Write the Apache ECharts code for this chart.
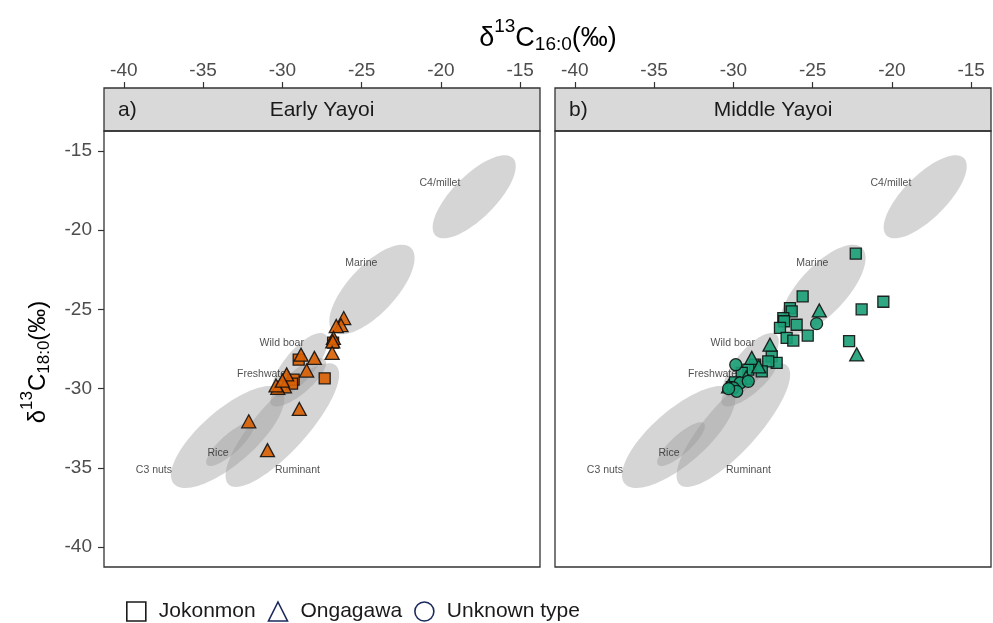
<!DOCTYPE html>
<html><head><meta charset="utf-8">
<script src="https://cdn.jsdelivr.net/npm/echarts@6/dist/echarts.min.js"></script>
<style>html,body{margin:0;padding:0;background:#fff}#c{width:993px;height:623px}</style>
</head><body><div id="c"></div>
<script>
// ---- axes ----
const axisTicks = [-40, -35, -30, -25, -20, -15];
const axisMin = -41.25, axisMax = -13.75;
const panelTitles = ['Early Yayoi', 'Middle Yayoi'];
const panelTags = ['a)', 'b)'];
const typeNames = ['Jokonmon', 'Ongagawa', 'Unknown type'];

// ---- reference ellipses (data units) ----
const ellipseNames   = ['C4/millet', 'Marine', 'Wild boar', 'Freshwater', 'C3 nuts', 'Rice', 'Ruminant'];
const ellipseCX      = [-17.9, -24.35, -28.9, -29.0, -33.45, -33.3, -30.0];
const ellipseCY      = [-17.9, -23.75, -28.5, -29.6, -33.05, -33.5, -32.3];
const ellipseMajor   = [3.45, 3.6, 2.5, 2.2, 4.5, 1.95, 5.05];
const ellipseMinor   = [1.35, 1.5, 0.95, 0.75, 1.7, 0.6, 1.6];
const ellipseAngle   = [45, 47, 50, 40, 41, 42, 48];
const ellipseLabelX  = [-20.06, -25.02, -30.04, -31.2, -38.1, -34.06, -29.05];
const ellipseLabelY  = [-17.05, -22.06, -27.12, -29.1, -35.11, -34.08, -35.11];

// ---- samples: Early Yayoi ----
const earlyJokonmon = [[-28.97,-28.17],[-27.33,-29.35],[-29.29,-29.43],[-29.39,-29.68],[-26.8,-27.1]];
const earlyOngagawa = [[-26.13,-25.55],[-26.3,-26.0],[-26.6,-26.05],[-26.78,-26.8],[-26.82,-27.02],[-26.86,-27.75],
  [-28.82,-27.86],[-27.98,-28.06],[-28.47,-28.86],[-29.73,-29.1],[-29.87,-29.85],[-30.29,-29.95],[-30.4,-29.8],
  [-30.0,-29.5],[-28.93,-31.28],[-32.12,-32.06],[-30.94,-33.88]];
const earlyUnknown = [];

// ---- samples: Middle Yayoi ----
const middleJokonmon = [[-22.28,-21.49],[-25.63,-24.18],[-20.54,-24.52],[-21.91,-25.0],[-26.43,-24.92],[-26.32,-25.13],
  [-26.85,-25.55],[-26.8,-25.75],[-26.01,-25.97],[-27.06,-26.17],[-25.31,-26.66],[-26.64,-26.8],[-26.22,-26.97],
  [-22.7,-27.0],[-27.58,-27.96],[-27.27,-28.38],[-27.8,-28.28],[-28.63,-28.49],[-28.21,-28.91],[-29.06,-28.8],
  [-29.47,-29.01],[-29.9,-29.6],[-30.1,-29.9]];
const middleOngagawa = [[-24.58,-25.07],[-22.22,-27.84],[-27.69,-27.23],[-28.84,-28.06],[-29.2,-29.3],[-30.3,-29.85],[-28.4,-28.6]];
const middleUnknown = [[-24.75,-25.9],[-29.85,-28.49],[-29.58,-29.64],[-30.0,-29.95],[-29.06,-29.54],[-29.79,-30.17],[-30.3,-30.0]];

const panelColors = ['#D95F02', '#1B9E77'];
const FONT = 'Liberation Sans, Arial, sans-serif';

const ellipseData = ellipseNames.map((n, i) => [ellipseCX[i], ellipseCY[i], ellipseMajor[i], ellipseMinor[i], ellipseAngle[i]]);
const ellipseLabelData = ellipseNames.map((n, i) => ({ name: n, value: [ellipseLabelX[i], ellipseLabelY[i]] }));

function renderEllipse(params, api) {
  const cx = api.value(0), cy = api.value(1), a = api.value(2), b = api.value(3);
  const ang = api.value(4) * Math.PI / 180;
  const pts = [];
  for (let k = 0; k < 90; k++) {
    const t = k / 90 * 2 * Math.PI;
    const ex = a * Math.cos(t), ey = b * Math.sin(t);
    pts.push(api.coord([cx + ex * Math.cos(ang) - ey * Math.sin(ang), cy + ex * Math.sin(ang) + ey * Math.cos(ang)]));
  }
  return { type: 'polygon', shape: { points: pts }, style: { fill: 'rgba(150,150,150,0.4)' }, silent: true };
}

const grids = [
  { left: 104, top: 131, width: 436, height: 436 },
  { left: 555, top: 131, width: 436, height: 436 }
];

const series = [];
const panelData = [
  [earlyJokonmon, earlyOngagawa, earlyUnknown],
  [middleJokonmon, middleOngagawa, middleUnknown]
];
const symbols = ['rect', 'triangle', 'circle'];
const sizes = [11, [14, 13], 12];
for (let p = 0; p < 2; p++) {
  series.push({
    type: 'custom', xAxisIndex: p, yAxisIndex: p, renderItem: renderEllipse,
    data: ellipseData, encode: { x: 0, y: 1 }, z: 1, silent: true, clip: true
  });
  series.push({
    type: 'scatter', xAxisIndex: p, yAxisIndex: p, data: ellipseLabelData, symbolSize: 1, z: 2, silent: true,
    itemStyle: { color: 'transparent' },
    label: { show: true, position: 'inside', formatter: '{b}', fontSize: 10.5, color: '#262626', fontFamily: FONT }
  });
  for (let t = 0; t < 3; t++) {
    series.push({
      name: typeNames[t], type: 'scatter', xAxisIndex: p, yAxisIndex: p, data: panelData[p][t],
      symbol: symbols[t], symbolSize: sizes[t], z: 3,
      itemStyle: { color: panelColors[p], opacity: 0.9, borderColor: '#111', borderWidth: 1.3 }
    });
  }
}

const xAxes = grids.map((g, i) => ({
  gridIndex: i, type: 'value', min: axisMin, max: axisMax, position: 'top', offset: 43,
  axisLine: { show: false },
  axisTick: { show: true, length: 6, customValues: axisTicks, lineStyle: { color: '#333', width: 1.2 } },
  axisLabel: { customValues: axisTicks, fontSize: 19, color: '#4d4d4d', margin: 8, fontFamily: FONT },
  splitLine: { show: false }
}));
const yAxes = grids.map((g, i) => ({
  gridIndex: i, type: 'value', min: axisMin, max: axisMax,
  axisLine: { show: false },
  axisTick: { show: i === 0, length: 6, customValues: axisTicks, lineStyle: { color: '#333', width: 1.2 } },
  axisLabel: { show: i === 0, customValues: axisTicks, fontSize: 19, color: '#4d4d4d', margin: 12, fontFamily: FONT },
  splitLine: { show: false }
}));

const graphics = [];
grids.forEach((g, i) => {
  graphics.push({ type: 'rect', shape: { x: g.left, y: 88, width: g.width, height: 43 },
    style: { fill: '#d9d9d9', stroke: '#333', lineWidth: 1.3 }, z: 10 });
  graphics.push({ type: 'text', x: g.left + g.width / 2, y: 110,
    style: { text: panelTitles[i], font: '21px ' + FONT, fill: '#1a1a1a', align: 'center', verticalAlign: 'middle' }, z: 11 });
  graphics.push({ type: 'text', x: g.left + 14, y: 110,
    style: { text: panelTags[i], font: '21px ' + FONT, fill: '#1a1a1a', align: 'left', verticalAlign: 'middle' }, z: 11 });
  graphics.push({ type: 'rect', shape: { x: g.left, y: g.top, width: g.width, height: g.height },
    style: { fill: 'none', stroke: '#333', lineWidth: 1.3 }, z: 10, silent: true });
});
const richTitle = {
  m: { fontSize: 27, fontFamily: FONT, color: '#111' },
  sup: { fontSize: 19, fontFamily: FONT, color: '#111', padding: [0, 0, 24, 0] },
  sub: { fontSize: 19, fontFamily: FONT, color: '#111', padding: [12, 0, 0, 0] }
};
const richY = {
  m: { fontSize: 24, fontFamily: FONT, color: '#111' },
  sup: { fontSize: 17, fontFamily: FONT, color: '#111', padding: [0, 0, 22, 0] },
  sub: { fontSize: 17, fontFamily: FONT, color: '#111', padding: [12, 0, 0, 0] }
};
graphics.push({ type: 'text', x: 548, y: 39, z: 11,
  style: { text: '{m|δ}{sup|13}{m|C}{sub|16:0}{m|(‰)}', rich: richTitle, align: 'center', verticalAlign: 'middle' } });
graphics.push({ type: 'text', x: 38, y: 362, rotation: Math.PI / 2, z: 11,
  style: { text: '{m|δ}{sup|13}{m|C}{sub|18:0}{m|(‰)}', rich: richY, align: 'center', verticalAlign: 'middle' } });

const legendStroke = ['#1a1a1a', '#1b2a5c', '#1b2a5c'];
const option = {
  animation: false,
  backgroundColor: '#fff',
  textStyle: { fontFamily: FONT },
  grid: grids,
  xAxis: xAxes,
  yAxis: yAxes,
  legend: {
    left: 121, top: 596, orient: 'horizontal', itemWidth: 19, itemHeight: 19, itemGap: 12, selectedMode: false,
    textStyle: { fontSize: 21, color: '#1a1a1a', fontFamily: FONT, padding: [0, 0, 0, 8] },
    data: typeNames.map((n, i) => ({ name: n, icon: symbols[i],
      itemStyle: { color: '#fff', borderColor: legendStroke[i], borderWidth: 1.6, opacity: 1 } }))
  },
  graphic: graphics,
  series: series
};
const chart = echarts.init(document.getElementById('c'), null, { renderer: 'canvas' });
chart.setOption(option);
</script></body></html>
